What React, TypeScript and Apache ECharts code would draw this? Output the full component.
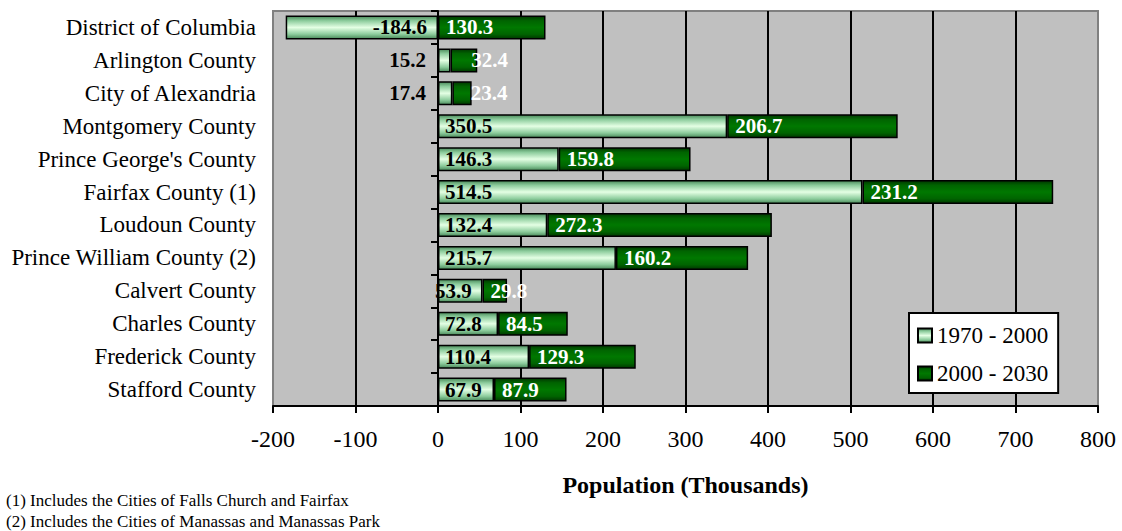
import React, { useEffect, useRef } from "react";
import * as echarts from "echarts";

const categories = [
  "District of Columbia",
  "Arlington County",
  "City of Alexandria",
  "Montgomery County",
  "Prince George's County",
  "Fairfax County (1)",
  "Loudoun County",
  "Prince William County (2)",
  "Calvert County",
  "Charles County",
  "Frederick County",
  "Stafford County",
];
const growth1970to2000 = [-184.6, 15.2, 17.4, 350.5, 146.3, 514.5, 132.4, 215.7, 53.9, 72.8, 110.4, 67.9];
const growth2000to2030 = [130.3, 32.4, 23.4, 206.7, 159.8, 231.2, 272.3, 160.2, 29.8, 84.5, 129.3, 87.9];
const seriesNames = ["1970 - 2000", "2000 - 2030"];
const xTicks = { min: -200, max: 800, interval: 100 };
const footnotes = [
  "(1) Includes the Cities of Falls Church and Fairfax",
  "(2) Includes the Cities of Manassas and Manassas Park",
];

const FONT = "'Liberation Serif', 'Times New Roman', serif";

const lightGrad = new echarts.graphic.LinearGradient(0, 0, 0, 1, [
  { offset: 0, color: "#4a8a5a" },
  { offset: 0.2, color: "#8ccc9c" },
  { offset: 0.5, color: "#e4ffe4" },
  { offset: 0.8, color: "#8ccc9c" },
  { offset: 1, color: "#4a8a5a" },
]);
const darkGrad = new echarts.graphic.LinearGradient(0, 0, 0, 1, [
  { offset: 0, color: "#003800" },
  { offset: 0.2, color: "#006400" },
  { offset: 0.5, color: "#007800" },
  { offset: 0.8, color: "#006400" },
  { offset: 1, color: "#003800" },
]);

// label overrides (styling only)
const label1Overrides: Record<number, any> = {
  0: { position: "insideRight", distance: 11 },
  1: { position: "left", distance: 12 },
  2: { position: "left", distance: 12 },
  8: { position: "insideLeft", distance: -3 },
};
const label2Overrides: Record<number, any> = {
  1: { position: "right", distance: -6 },
  2: { position: "right", distance: -1 },
};

export default function App() {
  const ref = useRef<HTMLDivElement>(null);
  useEffect(() => {
    if (!ref.current) return;
    const chart = echarts.init(ref.current, undefined, { renderer: "svg" });
    const labelBase = {
      show: true,
      fontFamily: FONT,
      fontWeight: "bold" as const,
      fontSize: 21,
      formatter: (p: any) => String(p.value),
    };
    chart.setOption({
      animation: false,
      backgroundColor: "#ffffff",
      grid: {
        left: 273,
        right: 24,
        top: 11,
        bottom: 125,
        containLabel: false,
        outerBoundsMode: "none",
        show: true,
        backgroundColor: "#c0c0c0",
        borderColor: "#808080",
        borderWidth: 2,
      },
      legend: {
        orient: "vertical",
        left: 909,
        top: 313,
        data: seriesNames,
        icon: "rect",
        itemWidth: 14,
        itemHeight: 14,
        itemGap: 15,
        padding: [11, 10, 8, 8],
        backgroundColor: "#ffffff",
        borderColor: "#000000",
        borderWidth: 2,
        borderRadius: 0,
        textStyle: { fontFamily: FONT, fontSize: 23, color: "#000" },
      },
      xAxis: {
        type: "value",
        min: xTicks.min,
        max: xTicks.max,
        interval: xTicks.interval,
        name: "Population (Thousands)",
        nameLocation: "middle",
        nameGap: 67,
        nameTextStyle: { fontFamily: FONT, fontSize: 24, fontWeight: "bold", color: "#000" },
        axisLine: { show: true, lineStyle: { color: "#000", width: 2 } },
        axisTick: { show: true, length: 7, lineStyle: { color: "#000", width: 2 } },
        axisLabel: { fontFamily: FONT, fontSize: 24, color: "#000", margin: 21 },
        splitLine: {
          show: true,
          showMinLine: false,
          showMaxLine: false,
          lineStyle: { color: "#000", width: 2 },
        },
      },
      yAxis: {
        type: "category",
        inverse: true,
        data: categories,
        axisLine: { show: true, onZero: true, lineStyle: { color: "#000", width: 2 } },
        axisTick: { show: true, length: 7, lineStyle: { color: "#000", width: 2 } },
        axisLabel: { fontFamily: FONT, fontSize: 23, color: "#000", margin: 17 },
        splitLine: { show: false },
      },
      series: [
        {
          name: seriesNames[0],
          type: "bar",
          stack: "total",
          barWidth: 24,
          itemStyle: { color: lightGrad, borderColor: "#000", borderWidth: 1.5 },
          label: { ...labelBase, color: "#000", position: "insideLeft", distance: 7 },
          data: growth1970to2000.map((v, i) =>
            label1Overrides[i] ? { value: v, label: label1Overrides[i] } : v
          ),
          z: 3,
        },
        {
          name: seriesNames[1],
          type: "bar",
          stack: "total",
          barWidth: 24,
          itemStyle: { color: darkGrad, borderColor: "#000", borderWidth: 1.5 },
          label: { ...labelBase, color: "#fff", position: "insideLeft", distance: 8 },
          data: growth2000to2030.map((v, i) =>
            label2Overrides[i] ? { value: v, label: label2Overrides[i] } : v
          ),
          z: 3,
        },
      ],
      graphic: footnotes.map((t, i) => ({
        type: "text",
        left: 6,
        top: 492 + i * 21,
        style: { text: t, fontFamily: FONT, fontSize: 17, fill: "#000" },
      })),
    });
    return () => chart.dispose();
  }, []);
  return (
    <div
      ref={ref}
      style={{ position: "fixed", left: 0, top: 0, width: 1122, height: 531 }}
    />
  );
}
